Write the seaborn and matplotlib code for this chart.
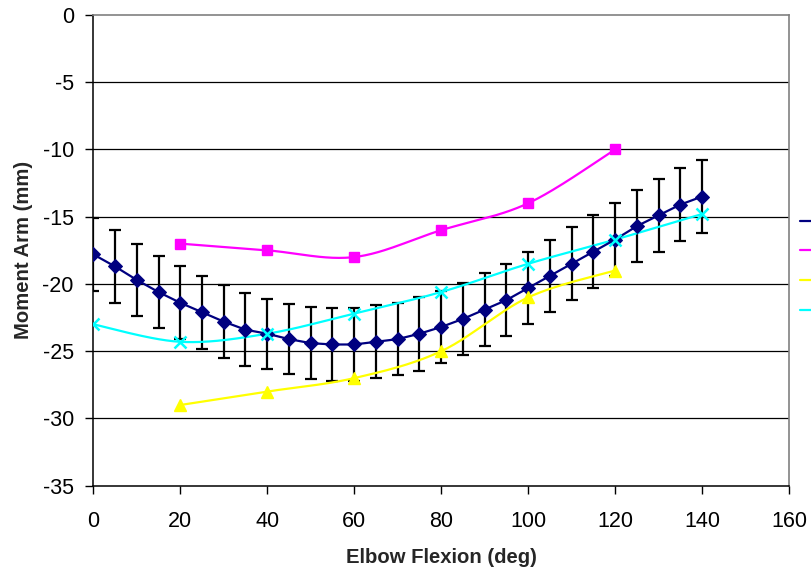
import numpy as np
import pandas as pd
import matplotlib
matplotlib.use("Agg")
import matplotlib.pyplot as plt
import seaborn as sns

# ---------------- data ----------------
flexion = [0, 5, 10, 15, 20, 25, 30, 35, 40, 45, 50, 55, 60, 65, 70,
           75, 80, 85, 90, 95, 100, 105, 110, 115, 120, 125, 130, 135, 140]
mean_arm = [-17.8, -18.7, -19.7, -20.6, -21.4, -22.1, -22.8, -23.4, -23.7,
            -24.1, -24.4, -24.5, -24.5, -24.3, -24.1, -23.7, -23.2, -22.6,
            -21.9, -21.2, -20.3, -19.4, -18.5, -17.6, -16.7, -15.7, -14.9,
            -14.1, -13.5]
sd_arm = [2.7, 2.7, 2.7, 2.7, 2.7, 2.7, 2.7, 2.7, 2.6, 2.6, 2.7, 2.75, 2.7,
          2.7, 2.7, 2.75, 2.7, 2.7, 2.7, 2.7, 2.7, 2.7, 2.7, 2.7, 2.7, 2.7,
          2.7, 2.7, 2.7]

study_x = [20, 40, 60, 80, 100, 120]
magenta_arm = [-17.0, -17.5, -18.0, -16.0, -14.0, -10.0]
yellow_arm = [-29.0, -28.0, -27.0, -25.0, -21.0, -19.0]

cyan_x = [0, 20, 40, 60, 80, 100, 120, 140]
cyan_arm = [-23.0, -24.3, -23.7, -22.2, -20.6, -18.5, -16.7, -14.8]

# legend entries: their text lies beyond the right edge of the reference image
legend_labels = ["", "", "", ""]
x_ticks = [0, 20, 40, 60, 80, 100, 120, 140, 160]
y_ticks = [0, -5, -10, -15, -20, -25, -30, -35]
x_label = "Elbow Flexion (deg)"
y_label = "Moment Arm (mm)"


def smooth_curve(xs, ys, n=40):
    """Bezier smoothing through the given points (spreadsheet-style)."""
    P = np.column_stack([xs, ys]).astype(float)
    pts = []
    for i in range(len(P) - 1):
        p0 = P[i - 1] if i > 0 else P[i]
        p1, p2 = P[i], P[i + 1]
        p3 = P[i + 2] if i + 2 < len(P) else P[i + 1]
        c1 = p1 + (p2 - p0) / 6.0
        c2 = p2 - (p3 - p1) / 6.0
        t = np.linspace(0, 1, n, endpoint=(i == len(P) - 2))[:, None]
        b = ((1 - t) ** 3) * p1 + 3 * ((1 - t) ** 2) * t * c1 \
            + 3 * (1 - t) * t ** 2 * c2 + t ** 3 * p2
        pts.append(b)
    B = np.vstack(pts)
    return B[:, 0], B[:, 1]


sns.set_style("white")
plt.rcParams["font.family"] = ["Liberation Sans", "DejaVu Sans"]

fig = plt.figure(figsize=(8.12, 5.71), dpi=100)
ax = fig.add_axes([93.3 / 812, 1 - 485.7 / 571, (789 - 93.3) / 812, (485.7 - 15) / 571])

NAVY, MAG, YEL, CYAN = "#000080", "#FF00FF", "#FFFF00", "#00FFFF"

# error bars of the mean series
ax.errorbar(flexion, mean_arm, yerr=sd_arm, fmt="none", ecolor="black",
            elinewidth=1.6, capsize=4, capthick=1.6, zorder=2)

df_mean = pd.DataFrame({"x": flexion, "y": mean_arm})
sns.lineplot(data=df_mean, x="x", y="y", color=NAVY, lw=1.6, marker="D",
             markersize=7, markeredgecolor=NAVY, ax=ax, zorder=4,
             estimator=None)

handles = [plt.Line2D([], [], color=NAVY, lw=1.6, marker="D", markersize=7)]
for xs, ys, col, mk, ms in [
        (study_x, magenta_arm, MAG, "s", 7.5),
        (study_x, yellow_arm, YEL, "^", 8),
        (cyan_x, cyan_arm, CYAN, "x", 8)]:
    sx, sy = smooth_curve(xs, ys)
    sns.lineplot(x=sx, y=sy, sort=False, estimator=None, color=col, lw=1.6,
                 ax=ax, zorder=3)
    ax.plot(xs, ys, linestyle="none", marker=mk, markersize=ms, color=col,
            markeredgecolor=col, markeredgewidth=1.8 if mk == "x" else 1,
            zorder=5)
    handles.append(plt.Line2D([], [], color=col, lw=1.6, marker=mk,
                              markersize=ms))

ax.set_xlim(0, 160)
ax.set_ylim(-35, 0)
ax.set_xticks(x_ticks)
ax.set_yticks(y_ticks)
ax.set_xticklabels([str(v) for v in x_ticks], fontsize=15.5)
ax.set_yticklabels([str(v) for v in y_ticks], fontsize=15.5)
ax.tick_params(axis="both", direction="out", length=5.5, width=1,
               color="black", labelcolor="black")
ax.tick_params(axis="x", bottom=True, pad=12.5)
ax.tick_params(axis="y", left=True, pad=8.5)

for yv in y_ticks[1:-1]:
    ax.axhline(yv, color="black", lw=0.9, zorder=1)

for side in ["top", "right"]:
    ax.spines[side].set_color("#808080")
    ax.spines[side].set_linewidth(1.2)
for side in ["left", "bottom"]:
    ax.spines[side].set_color("black")
    ax.spines[side].set_linewidth(1.1)

ax.set_xlabel(x_label, fontsize=14.6, fontweight="bold")
ax.set_ylabel(y_label, fontsize=14.6, fontweight="bold")
ax.xaxis.set_label_coords(0.5, -0.1515)
ax.yaxis.set_label_coords(-0.1, 0.5)
ax.xaxis.label.set_va("center")
ax.yaxis.label.set_va("center")

leg = fig.legend(handles, legend_labels, loc="upper left",
                 bbox_to_anchor=(800 / 812, 1 - 213 / 571), frameon=False,
                 fontsize=14, handlelength=2.6, handleheight=1.0,
                 handletextpad=0.5, labelspacing=0.53, borderaxespad=0,
                 borderpad=0)

fig.savefig("out.png", dpi=100)
